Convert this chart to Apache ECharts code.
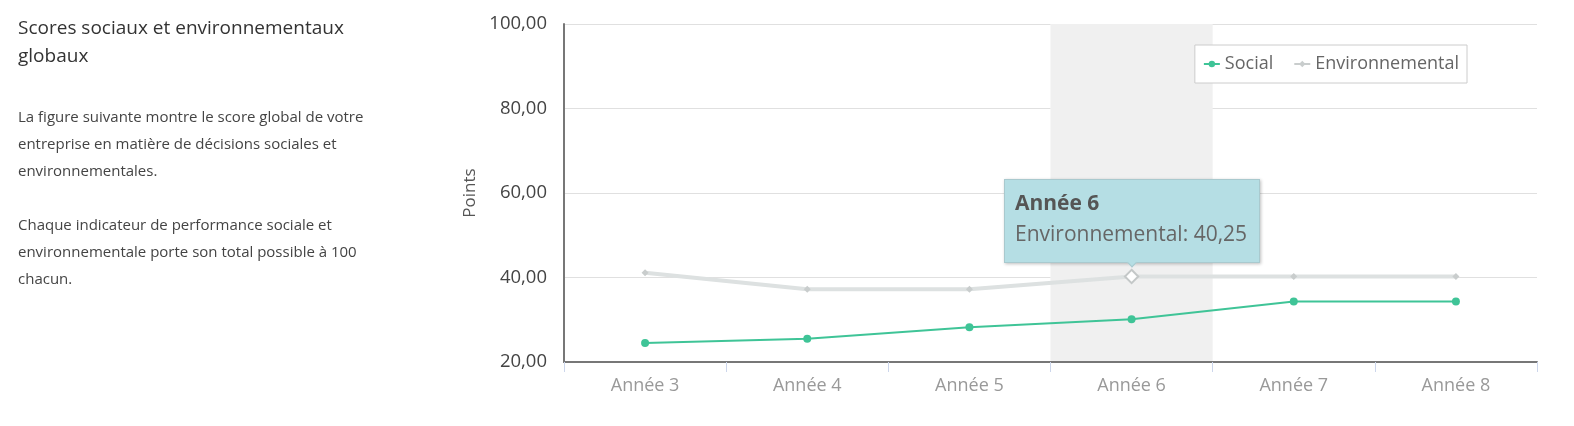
<!DOCTYPE html>
<html><head><meta charset="utf-8">
<script src="https://cdn.jsdelivr.net/npm/echarts@6/dist/echarts.min.js"></script>
<style>
html,body{margin:0;padding:0;background:#fff;width:1574px;height:426px;overflow:hidden;font-family:"Open Sans","Noto Sans",sans-serif;}
#chart{position:absolute;left:0;top:0;width:1574px;height:426px;}
#side{position:absolute;left:18px;top:13px;width:372px;color:#333;z-index:2;}
#side h3{font-weight:400;font-size:19px;line-height:28px;margin:0 0 34px 0;color:#333;}
#side p{font-size:15px;line-height:27px;margin:0 0 27px 0;color:#444;}
</style></head>
<body>
<div id="side">
<h3>Scores sociaux et environnementaux globaux</h3>
<p>La figure suivante montre le score global de votre entreprise en matière de décisions sociales et environnementales.</p>
<p>Chaque indicateur de performance sociale et environnementale porte son total possible à 100 chacun.</p>
</div>
<div id="chart"></div>
<script>
const categories = ['Année 3','Année 4','Année 5','Année 6','Année 7','Année 8'];
const socialValues = [24.5, 25.5, 28.2, 30.1, 34.3, 34.3];
const environmentalValues = [41.1, 37.2, 37.2, 40.25, 40.25, 40.25];
const seriesNames = ['Social','Environnemental'];
const yTicks = {min:20, max:100, interval:20};
const highlighted = {series:1, index:3};

const fmt = v => v.toFixed(2).replace('.', ',');
const chart = echarts.init(document.getElementById('chart'));
const FONT = '"Open Sans", "Noto Sans", sans-serif';
chart.setOption({
  animation:false,
  textStyle:{fontFamily:FONT},
  grid:{left:564, right:37, top:24, bottom:64},
  legend:{
    data:seriesNames, top:45, right:107, padding:[10,8,10,8],
    borderColor:'#cccccc', borderWidth:1, backgroundColor:'#fff',
    itemWidth:16, itemHeight:8, itemGap:20,
    textStyle:{fontSize:18, color:'#666', fontFamily:FONT}
  },
  tooltip:{
    trigger:'item', position:'top', alwaysShowContent:true, showContent:true,
    backgroundColor:'#b5dee4', borderColor:'#a9c9ce', borderWidth:1,
    padding:[7,12,13,10],
    extraCssText:'box-shadow:1px 1px 3px rgba(0,0,0,0.25);border-radius:0;',
    formatter: p => '<div style="font-family:'+FONT.replace(/"/g,"'")+';color:#555;font-size:21px;line-height:31px;">'+
      '<div style="font-weight:700;">'+p.name+'</div>'+
      '<div style="font-weight:400;color:#666;">'+p.seriesName+': '+fmt(p.value)+'</div></div>'
  },
  xAxis:{
    type:'category', data:categories, z:3,
    axisLine:{lineStyle:{color:'#777', width:2}},
    axisTick:{show:true, length:10, lineStyle:{color:'#ccd6eb', width:1}},
    axisLabel:{fontSize:18, color:'#999', margin:15, fontFamily:FONT},
    axisPointer:{show:true, type:'shadow', value:categories[highlighted.index], status:'show', triggerTooltip:false, z:0,
      label:{show:false}, shadowStyle:{color:'#f0f0f0', opacity:1}}
  },
  yAxis:{
    type:'value', min:yTicks.min, max:yTicks.max, interval:yTicks.interval,
    name:'Points', nameLocation:'middle', nameGap:84, nameRotate:90,
    nameTextStyle:{fontSize:17, color:'#555', fontFamily:FONT},
    axisLine:{show:true, lineStyle:{color:'#777', width:2}},
    axisTick:{show:false},
    splitLine:{lineStyle:{color:'#e0e0e0', width:1}},
    axisLabel:{fontSize:18.5, color:'#444', margin:17, formatter:v=>fmt(v), fontFamily:FONT}
  },
  series:[
    {name:seriesNames[0], type:'line', data:socialValues, symbol:'circle', symbolSize:8,
     lineStyle:{color:'#3fc497', width:2}, itemStyle:{color:'#3fc497'}, z:5,
     emphasis:{disabled:true}},
    {name:seriesNames[1], type:'line', data:environmentalValues, symbol:'diamond', symbolSize:7,
     lineStyle:{color:'#c9cdcd', width:4}, itemStyle:{color:'#c9cdcd'}, z:4,
     emphasis:{scale:1.9, itemStyle:{color:'#fff', borderColor:'#c4c8c8', borderWidth:2}, lineStyle:{width:4}}}
  ]
});
chart.dispatchAction({type:'highlight', seriesIndex:highlighted.series, dataIndex:highlighted.index});
chart.dispatchAction({type:'showTip', seriesIndex:highlighted.series, dataIndex:highlighted.index});
</script>
</body></html>
